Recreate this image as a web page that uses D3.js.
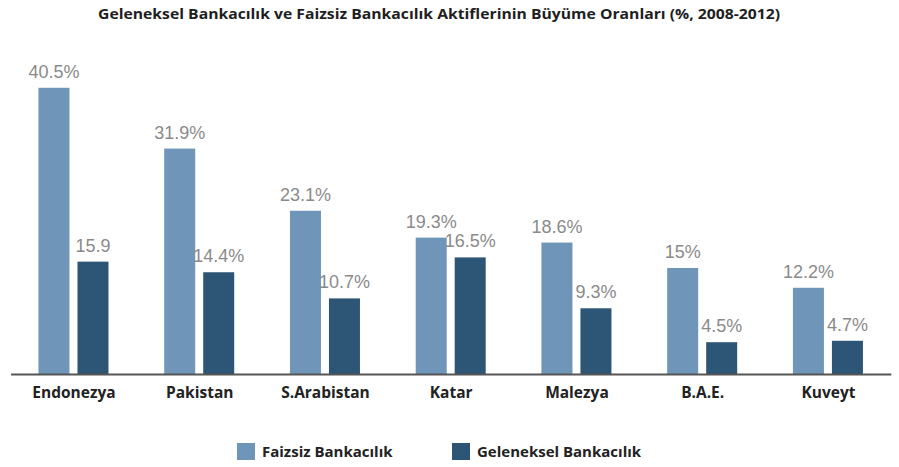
<!DOCTYPE html>
<html>
<head>
<meta charset="utf-8">
<script src="https://cdn.jsdelivr.net/npm/d3@7"></script>
<style>
  body { margin: 0; background: #fff; }
  svg { display: block; }
</style>
</head>
<body>
<div id="chart"></div>
<script>
var width = 899, height = 467;

// data
var countries = ["Endonezya", "Pakistan", "S.Arabistan", "Katar", "Malezya", "B.A.E.", "Kuveyt"];
var series = ["Faizsiz Bankacılık", "Geleneksel Bankacılık"];
var faizsiz = [40.5, 31.9, 23.1, 19.3, 18.6, 15, 12.2];
var geleneksel = [15.9, 14.4, 10.7, 16.5, 9.3, 4.5, 4.7];
var faizsizLabels = ["40.5%", "31.9%", "23.1%", "19.3%", "18.6%", "15%", "12.2%"];
var gelenekselLabels = ["15.9", "14.4%", "10.7%", "16.5%", "9.3%", "4.5%", "4.7%"];
var colors = ["#6f96b8", "#2d5576"];

var rows = [];
countries.forEach(function (c, i) {
    rows.push({ country: c, key: series[0], value: faizsiz[i], label: faizsizLabels[i], s: 0 });
    rows.push({ country: c, key: series[1], value: geleneksel[i], label: gelenekselLabels[i], s: 1 });
});

var svg = d3.select("#chart").append("svg")
    .attr("width", width)
    .attr("height", height);

// scales
var x0 = d3.scalePoint().domain(countries).range([10.6, 890.8]).padding(0.5);
var x1 = d3.scaleBand().domain(series).range([-35, 35]).paddingInner(0.205);
var y = d3.scaleLinear().domain([0, 45]).range([374, 56]);

// title
svg.append("text")
    .attr("x", 439).attr("y", 19)
    .attr("text-anchor", "middle")
    .attr("textLength", 682)
    .attr("lengthAdjust", "spacingAndGlyphs")
    .style("font-family", "'Open Sans', sans-serif")
    .style("font-weight", 700)
    .style("font-size", "14px")
    .attr("fill", "#1e1e1e")
    .text("Geleneksel Bankacılık ve Faizsiz Bankacılık Aktiflerinin Büyüme Oranları (%, 2008-2012)");

// bars
svg.selectAll("rect.bar")
    .data(rows)
    .enter().append("rect")
    .attr("class", "bar")
    .attr("x", function (d) { return x0(d.country) + x1(d.key); })
    .attr("width", x1.bandwidth())
    .attr("y", function (d) { return y(d.value); })
    .attr("height", function (d) { return y(0) - y(d.value); })
    .attr("fill", function (d) { return colors[d.s]; });

// value labels
svg.selectAll("text.val")
    .data(rows)
    .enter().append("text")
    .attr("class", "val")
    .attr("x", function (d) { return x0(d.country) + x1(d.key) + x1.bandwidth() / 2; })
    .attr("y", function (d) { return y(d.value) - 10; })
    .attr("text-anchor", "middle")
    .style("font-family", "'Liberation Sans', Arial, sans-serif")
    .style("font-size", "18px")
    .attr("fill", "#8a8a8a")
    .text(function (d) { return d.label; });

// x axis
var xAxis = svg.append("g")
    .attr("transform", "translate(0," + y(0) + ")")
    .call(d3.axisBottom(x0).tickSize(0).tickPadding(13));
xAxis.select(".domain").attr("stroke", "#555").attr("stroke-width", 2);
xAxis.selectAll("text")
    .style("font-family", "'Open Sans', sans-serif")
    .style("font-weight", 700)
    .style("font-size", "15.5px")
    .attr("fill", "#222");

// legend
var legend = svg.selectAll("g.legend")
    .data(series)
    .enter().append("g")
    .attr("class", "legend")
    .attr("transform", function (d, i) { return "translate(" + [237, 452][i] + ",443)"; });
legend.append("rect")
    .attr("width", 18).attr("height", 17)
    .attr("fill", function (d, i) { return colors[i]; });
legend.append("text")
    .attr("x", 25).attr("y", 14)
    .style("font-family", "'Open Sans', sans-serif")
    .style("font-weight", 700)
    .style("font-size", "15px")
    .attr("fill", "#222")
    .text(function (d) { return d; });
</script>
</body>
</html>
